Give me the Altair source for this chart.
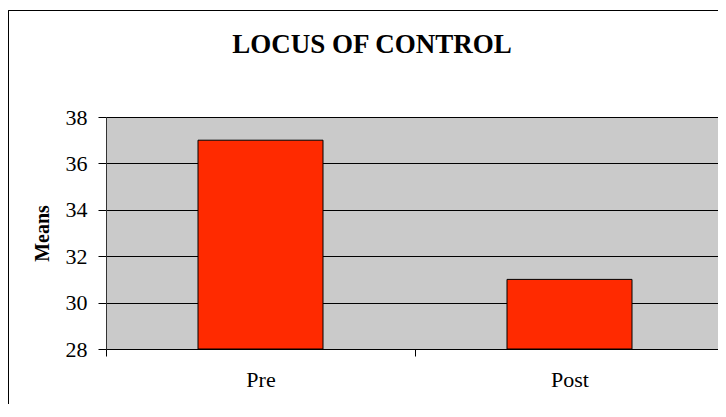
import altair as alt
import pandas as pd

categories = ["Pre", "Post"]
means = [37, 31]
y_ticks = [28, 30, 32, 34, 36, 38]

df = pd.DataFrame({"Group": categories, "Means": means})

FONT = "Liberation Serif"

base = alt.Chart(df)

frame = base.mark_rect(fill=None, stroke="black", strokeWidth=1).encode(
    x=alt.value(-97.5), x2=alt.value(700), y=alt.value(-106.5), y2=alt.value(400)
)

bars = base.mark_bar(
    color="#FF2A00", stroke="black", strokeWidth=1, size=125
).encode(
    x=alt.X(
        "Group:N",
        sort=categories,
        scale=alt.Scale(paddingInner=0, paddingOuter=0),
        axis=alt.Axis(
            title=None,
            labelAngle=0,
            labelFont=FONT,
            labelFontSize=22,
            labelColor="black",
            labelPadding=13,
            tickBand="extent",
            tickSize=7,
            tickColor="black",
            domainColor="black",
            grid=False,
        ),
    ),
    y=alt.Y(
        "Means:Q",
        scale=alt.Scale(domain=[28, 38], zero=False, nice=False),
        axis=alt.Axis(
            values=y_ticks,
            title="Means",
            titleFont=FONT,
            titleFontSize=20,
            titleFontWeight="bold",
            titleColor="black",
            titleX=-64,
            titleY=116,
            titleAngle=-90,
            titleAlign="center",
            titleBaseline="middle",
            labelFont=FONT,
            labelFontSize=22,
            labelColor="black",
            labelPadding=11,
            tickSize=8,
            tickColor="black",
            domainColor="#333333",
            gridColor="black",
            gridWidth=1,
        ),
    ),
    y2=alt.datum(28),
)

chart = (
    alt.layer(frame, bars)
    .properties(
        width=618,
        height=232,
        title=alt.TitleParams(
            "LOCUS OF CONTROL",
            font=FONT,
            fontSize=27,
            fontWeight="bold",
            color="black",
            anchor="middle",
            dx=-43,
            offset=-49,
        ),
        autosize=alt.AutoSizeParams(type="none"),
        padding={"left": 98, "top": 109, "right": -6, "bottom": 55},
    )
    .configure(background="white")
    .configure_view(fill="#CACACA", stroke="#808080", strokeWidth=1)
)

chart.save("out.html", embed_options={"renderer": "svg", "actions": False})
